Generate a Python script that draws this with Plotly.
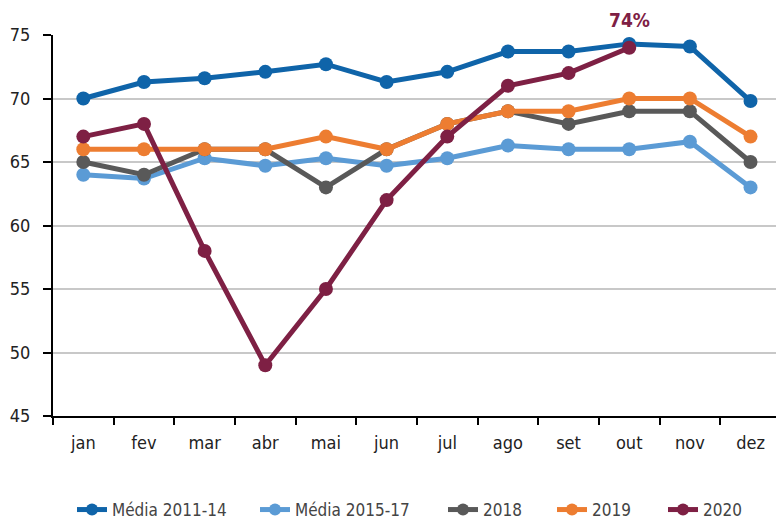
import plotly.graph_objects as go

months = ["jan", "fev", "mar", "abr", "mai", "jun", "jul", "ago", "set", "out", "nov", "dez"]
media_2011_14 = [70.0, 71.3, 71.6, 72.1, 72.7, 71.3, 72.1, 73.7, 73.7, 74.3, 74.1, 69.8]
media_2015_17 = [64.0, 63.7, 65.3, 64.7, 65.3, 64.7, 65.3, 66.3, 66.0, 66.0, 66.6, 63.0]
y2018 = [65, 64, 66, 66, 63, 66, 68, 69, 68, 69, 69, 65]
y2019 = [66, 66, 66, 66, 67, 66, 68, 69, 69, 70, 70, 67]
y2020 = [67, 68, 58, 49, 55, 62, 67, 71, 72, 74]

series = [
    ("Média 2011-14", media_2011_14, "#0F64A9"),
    ("Média 2015-17", media_2015_17, "#5B9BD5"),
    ("2018", y2018, "#595959"),
    ("2019", y2019, "#ED7D31"),
    ("2020", y2020, "#7E2044"),
]

FONT = "DejaVu Sans Condensed, Roboto, sans-serif"
L, R, T, B, W, H = 53, 0, 35, 104, 776, 520
PW = W - L - R
PH = H - T - B
legend_px = [72, 255, 443, 552, 663]

fig = go.Figure()
layout_legends = {}
for i, (name, vals, color) in enumerate(series):
    lname = "legend" if i == 0 else f"legend{i+1}"
    fig.add_trace(go.Scatter(
        x=months[:len(vals)], y=vals, name=name, mode="lines+markers",
        line=dict(color=color, width=5),
        marker=dict(color=color, size=14),
        cliponaxis=False, legend=lname,
    ))
    layout_legends[lname] = dict(
        orientation="h", x=(legend_px[i] - L) / PW, xanchor="left",
        y=(H - B - 510) / PH, yanchor="middle",
        font=dict(family=FONT, size=17, color="#444444"),
        itemwidth=30, itemsizing="constant", bgcolor="rgba(0,0,0,0)",
    )

fig.add_annotation(
    x="out", y=y2020[9], text="<b>74%</b>", showarrow=False,
    yanchor="bottom", yshift=15,
    font=dict(family=FONT, size=19, color="#7E2044"),
)

fig.update_layout(
    width=W, height=H,
    margin=dict(l=L, r=R, t=T, b=B, autoexpand=False),
    paper_bgcolor="white", plot_bgcolor="white",
    font=dict(family=FONT, size=18, color="#222222"),
    showlegend=True,
    xaxis=dict(
        type="category", categoryorder="array", categoryarray=months,
        range=[-0.5, 11.42], automargin=False,
        showline=True, linecolor="black", linewidth=2,
        ticks="outside", tickson="boundaries", ticklen=7, tickwidth=2, tickcolor="black",
        showgrid=False, ticklabelstandoff=9,
        tickfont=dict(family=FONT, size=18, color="#222222"),
    ),
    yaxis=dict(
        range=[45, 75], dtick=5, tick0=45, automargin=False,
        showline=True, linecolor="black", linewidth=2,
        ticks="outside", ticklen=8, tickwidth=2, tickcolor="black",
        showgrid=True, gridcolor="#C8C8C8", gridwidth=1.5,
        zeroline=False, ticklabelstandoff=9,
        tickfont=dict(family=FONT, size=18, color="#222222"),
    ),
    **layout_legends,
)

fig.write_html(
    "out.html",
    config={"displayModeBar": False},
    post_script="document.body.style.margin='0';document.body.style.padding='0';",
)
